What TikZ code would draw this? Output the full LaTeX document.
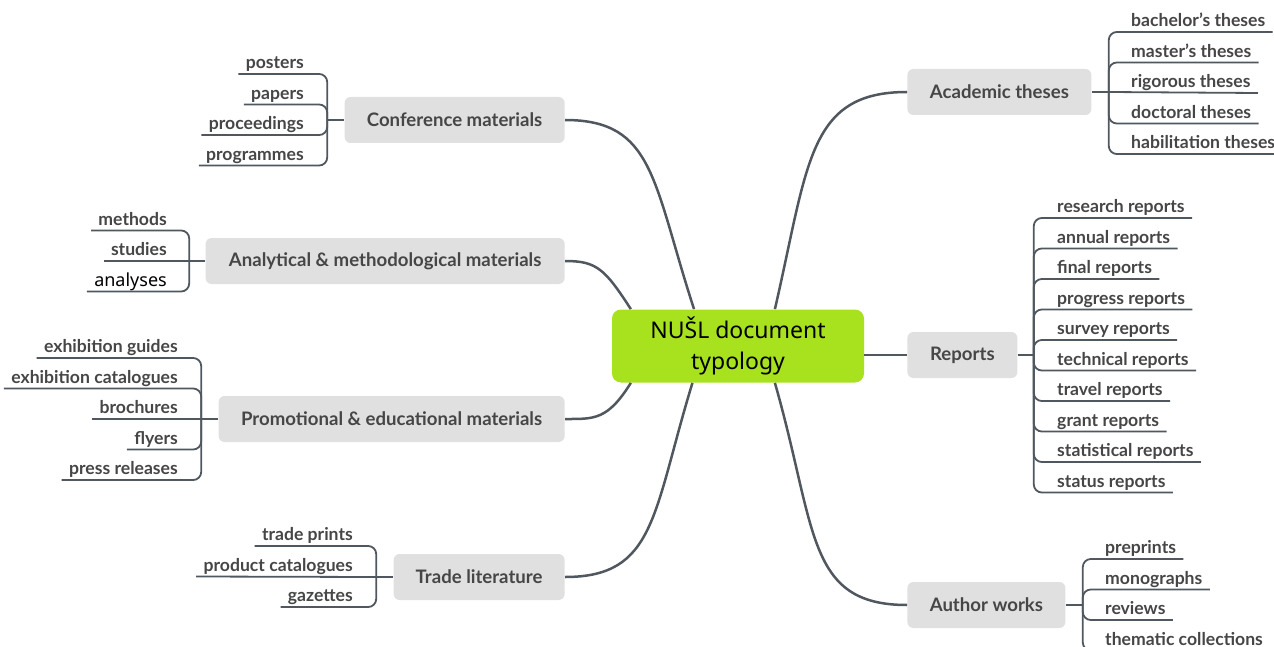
\documentclass[tikz,border=0pt]{standalone}
\usepackage{fontspec}
\setmainfont{Lato}
\newfontfamily\hubfont{Noto Sans}
\usetikzlibrary{positioning}
\definecolor{hubgreen}{HTML}{A8E21F}
\definecolor{catgray}{HTML}{E0E0E0}
\definecolor{linkgray}{HTML}{50575E}
\definecolor{txtgray}{HTML}{464646}
\tikzset{
  hub/.style={rectangle, rounded corners=4.5pt, fill=hubgreen, minimum width=126pt, minimum height=36.5pt, align=center, font=\hubfont\fontsize{11.5}{15.5}\selectfont},
  cat/.style={rectangle, rounded corners=3pt, fill=catgray, minimum height=23pt, inner xsep=9pt, text=txtgray, font=\bfseries\fontsize{9.3}{10}\selectfont},
  leaf/.style={inner xsep=3.5pt, inner ysep=0pt, text height=12.75pt, text depth=2.5pt, text=txtgray, font=\bfseries\fontsize{8.8}{9}\selectfont},
  leafl/.style={leaf, anchor=south east},
  leafr/.style={leaf, anchor=south west},
  nextl/.style={below=15.25pt of #1.south east, anchor=south east},
  nextr/.style={below=15.25pt of #1.south west, anchor=south west},
  link/.style={draw=linkgray, line width=1.25pt, out looseness=1.5, in looseness=1},
  branch/.style={draw=linkgray, line width=0.9pt, rounded corners=4pt}
}
\begin{document}
\begin{tikzpicture}[x=0.5pt, y=-0.5pt]
\useasboundingbox (0,0) rectangle (1274,647);
\node[hub] (hub) at (738,346) {NUŠL document\\typology};
\node[cat, minimum width=110pt, anchor=east] (conf) at (565,120) {Conference materials};
\node[cat, minimum width=179.5pt, anchor=east] (anal) at (565,261) {Analytical \& methodological materials};
\node[cat, minimum width=173pt, anchor=east] (promo) at (565,419) {Promotional \& educational materials};
\node[cat, minimum width=85.5pt, anchor=east] (trade) at (565,577) {Trade literature};
\node[cat, minimum width=92pt, anchor=west] (acad) at (907,92) {Academic theses};
\node[cat, minimum width=55pt, anchor=west] (reports) at (907,355) {Reports};
\node[cat, minimum width=79pt, anchor=west] (author) at (907,605) {Author works};

\draw[link] (hub.140) to[out=108, in=0] (conf.east);
\draw[link] (hub.161) to[out=123, in=0] (anal.east);
\draw[link] (hub.199) to[out=238, in=0] (promo.east);
\draw[link] (hub.219) to[out=253, in=0] (trade.east);
\draw[link] (hub.45) to[out=77, in=180] (acad.west);
\draw[link] (hub.east |- reports.west) -- (reports.west);
\draw[link] (hub.315) to[out=-74, in=180] (author.west);

\coordinate[left=8.5pt of conf] (confj);
\node[leafl, above left=23pt and 8pt of confj] (posters) {posters};
\node[leafl, nextl=posters] (papers) {papers};
\node[leafl, nextl=papers] (proceedings) {proceedings};
\node[leafl, nextl=proceedings] (programmes) {programmes};
\draw[branch] (conf.west) -- (confj);
\draw[branch] (confj) |- (posters.south east) -- (posters.south west);
\draw[branch] (confj) |- (papers.south east) -- (papers.south west);
\draw[branch] (confj) |- (proceedings.south east) -- (proceedings.south west);
\draw[branch] (confj) |- (programmes.south east) -- (programmes.south west);

\coordinate[left=8pt of anal] (analj);
\node[leafl, above left=15.25pt and 7.5pt of analj] (methods) {methods};
\node[leafl, nextl=methods] (studies) {studies};
\node[leafl, nextl=studies, text=black, font=\hubfont\fontsize{9}{10}\selectfont] (analyses) {analyses};
\draw[branch] (anal.west) -- (analj);
\draw[branch] (analj) |- (methods.south east) -- (methods.south west);
\draw[branch] (analj) -- (studies.south west);
\draw[branch] (analj) |- (analyses.south east) -- (analyses.south west);

\coordinate[left=8.5pt of promo] (promoj);
\node[leafl, above left=30.5pt and 8pt of promoj] (exguides) {exhibition guides};
\node[leafl, nextl=exguides] (excats) {exhibition catalogues};
\node[leafl, nextl=excats] (brochures) {brochures};
\node[leafl, nextl=brochures] (flyers) {flyers};
\node[leafl, nextl=flyers] (press) {press releases};
\draw[branch] (promo.west) -- (promoj);
\draw[branch] (promoj) |- (exguides.south east) -- (exguides.south west);
\draw[branch] (promoj) |- (excats.south east) -- (excats.south west);
\draw[branch] (promoj) -- (brochures.south west);
\draw[branch] (promoj) |- (flyers.south east) -- (flyers.south west);
\draw[branch] (promoj) |- (press.south east) -- (press.south west);

\coordinate[left=8.5pt of trade] (tradej);
\node[leafl, above left=15.5pt and 8pt of tradej] (tprints) {trade prints};
\node[leafl, nextl=tprints] (pcats) {product catalogues};
\node[leafl, nextl=pcats] (gazettes) {gazettes};
\draw[branch] (trade.west) -- (tradej);
\draw[branch] (tradej) |- (tprints.south east) -- (tprints.south west);
\draw[branch] (tradej) -- (pcats.south west);
\draw[branch] (tradej) |- (gazettes.south east) -- (gazettes.south west);

\coordinate[right=8.5pt of acad] (acadj);
\node[leafr, above right=30pt and 7.5pt of acadj] (bachelor) {bachelor's theses};
\node[leafr, nextr=bachelor] (master) {master's theses};
\node[leafr, nextr=master] (rigorous) {rigorous theses};
\node[leafr, nextr=rigorous] (doctoral) {doctoral theses};
\node[leafr, nextr=doctoral] (habil) {habilitation theses};
\draw[branch] (acad.east) -- (acadj);
\draw[branch] (acadj) |- (bachelor.south west) -- (bachelor.south east);
\draw[branch] (acadj) |- (master.south west) -- (master.south east);
\draw[branch] (acadj) -- (rigorous.south east);
\draw[branch] (acadj) |- (doctoral.south west) -- (doctoral.south east);
\draw[branch] (acadj) |- (habil.south west) -- (habil.south east);

\coordinate[right=8pt of reports] (reportsj);
\node[leafr, above right=68.5pt and 8pt of reportsj] (research) {research reports};
\node[leafr, nextr=research] (annual) {annual reports};
\node[leafr, nextr=annual] (final) {final reports};
\node[leafr, nextr=final] (progress) {progress reports};
\node[leafr, nextr=progress] (survey) {survey reports};
\node[leafr, nextr=survey] (technical) {technical reports};
\node[leafr, nextr=technical] (travel) {travel reports};
\node[leafr, nextr=travel] (grant) {grant reports};
\node[leafr, nextr=grant] (statistical) {statistical reports};
\node[leafr, nextr=statistical] (status) {status reports};
\draw[branch] (reports.east) -- (reportsj);
\draw[branch] (reportsj) |- (research.south west) -- (research.south east);
\draw[branch] (reportsj) |- (annual.south west) -- (annual.south east);
\draw[branch] (reportsj) |- (final.south west) -- (final.south east);
\draw[branch] (reportsj) |- (progress.south west) -- (progress.south east);
\draw[branch] (reportsj) |- (survey.south west) -- (survey.south east);
\draw[branch] (reportsj) |- (technical.south west) -- (technical.south east);
\draw[branch] (reportsj) |- (travel.south west) -- (travel.south east);
\draw[branch] (reportsj) |- (grant.south west) -- (grant.south east);
\draw[branch] (reportsj) |- (statistical.south west) -- (statistical.south east);
\draw[branch] (reportsj) |- (status.south west) -- (status.south east);

\coordinate[right=8.5pt of author] (authorj);
\node[leafr, above right=23pt and 7.5pt of authorj] (preprints) {preprints};
\node[leafr, nextr=preprints] (monographs) {monographs};
\node[leafr, nextr=monographs] (reviews) {reviews};
\node[leafr, nextr=reviews] (thematic) {thematic collections};
\draw[branch] (author.east) -- (authorj);
\draw[branch] (authorj) |- (preprints.south west) -- (preprints.south east);
\draw[branch] (authorj) |- (monographs.south west) -- (monographs.south east);
\draw[branch] (authorj) |- (reviews.south west) -- (reviews.south east);
\draw[branch] (authorj) |- (thematic.south west) -- (thematic.south east);
\end{tikzpicture}
\end{document}
